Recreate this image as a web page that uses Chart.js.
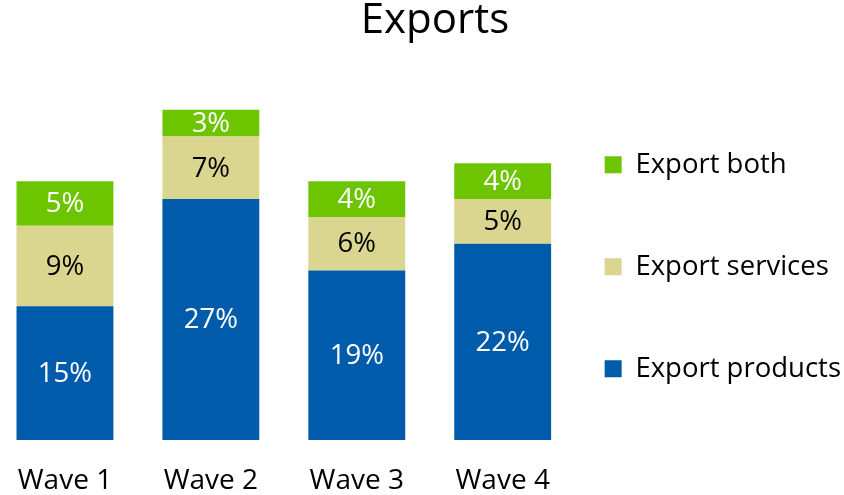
<!doctype html>
<html>
	<head>
		<title>Exports</title>
		<meta charset="utf-8">
		<script src="https://cdn.jsdelivr.net/npm/chart.js@4.4.0/dist/chart.umd.min.js"></script>
		<style>
			body { margin: 0; background: #fff; overflow: hidden; }
			#wrap { position: relative; width: 844px; height: 495px; overflow: hidden; }
			#canvas { position: absolute; left: -8px; top: 0; }
		</style>
	</head>
	<body>
		<div id="wrap">
			<canvas id="canvas" width="886" height="495"></canvas>
		</div>

<script>
	var waves    = ['Wave 1', 'Wave 2', 'Wave 3', 'Wave 4'];
	var products = [15, 27, 19, 22];
	var services = [9, 7, 6, 5];
	var both     = [5, 3, 4, 4];

	var FONT = '"Open Sans"';

	// value labels in the middle of each segment
	var segmentLabels = {
		id: 'segmentLabels',
		afterDatasetsDraw: function(chart) {
			var ctx = chart.ctx;
			ctx.save();
			ctx.font = '27.5px ' + FONT;
			ctx.textAlign = 'center';
			ctx.textBaseline = 'middle';
			chart.data.datasets.forEach(function(ds, i) {
				var meta = chart.getDatasetMeta(i);
				ctx.fillStyle = ds.labelColor;
				meta.data.forEach(function(bar, j) {
					ctx.fillText(ds.data[j] + '%', bar.x, (bar.y + bar.base) / 2 + 1);
				});
			});
			ctx.restore();
		}
	};

	new Chart(document.getElementById('canvas'), {
		type: 'bar',
		data: {
			labels: waves,
			datasets: [
				{ label: 'Export products', data: products, backgroundColor: '#005BAA', labelColor: '#fff' },
				{ label: 'Export services', data: services, backgroundColor: '#DAD58F', labelColor: '#000' },
				{ label: 'Export both',     data: both,     backgroundColor: '#6DC400', labelColor: '#fff' }
			]
		},
		options: {
			responsive: false,
			animation: false,
			events: [],
			categoryPercentage: 0.664,
			barPercentage: 1,
			layout: { padding: 0 },
			scales: {
				x: {
					stacked: true,
					grid: { display: false, drawTicks: false },
					border: { display: false },
					ticks: { color: '#000', padding: 24, font: { family: FONT, size: 28 } },
					afterFit: function(scale) { scale.height = 55; }
				},
				y: {
					stacked: true,
					display: false,
					min: 0,
					max: 40
				},
				// empty strip right of the legend
				y2: {
					position: 'right',
					weight: 2000,
					grid: { display: false },
					border: { display: false },
					ticks: { display: false },
					afterFit: function(scale) { scale.width = 27; }
				}
			},
			plugins: {
				title: {
					display: true,
					text: 'Exports',
					color: '#000',
					font: { family: FONT, size: 42, weight: 'normal', lineHeight: 1 },
					padding: { top: 0, bottom: 41 }
				},
				legend: {
					position: 'right',
					align: 'start',
					reverse: true,
					maxWidth: 320,
					title: { display: true, text: '', padding: { top: 0, bottom: 107.6 } },
					labels: {
						color: '#000',
						boxWidth: 17,
						boxHeight: 17,
						padding: 29,
						font: { family: FONT, size: 27.5, lineHeight: 73 / 27.5 },
						generateLabels: function(chart) {
							var items = Chart.defaults.plugins.legend.labels.generateLabels(chart);
							// single-line arrays so each row takes the font's line height
							items.forEach(function(item) { item.text = [item.text]; });
							return items;
						}
					}
				},
				tooltip: { enabled: false }
			}
		},
		plugins: [segmentLabels]
	});
</script>
	</body>
</html>
